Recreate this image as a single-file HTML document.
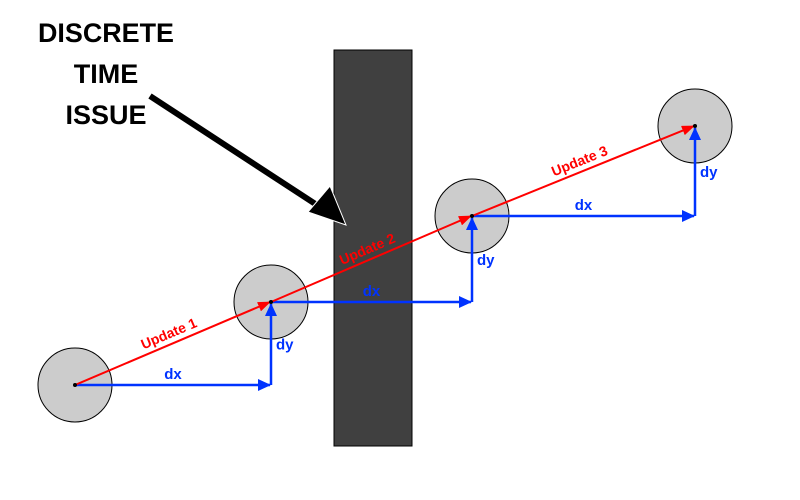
<!DOCTYPE html>
<html><head><meta charset="utf-8"><style>
body{margin:0;background:#fff;}
svg{display:block;font-family:"Liberation Sans",sans-serif;}
</style></head><body>
<svg id="c" width="800" height="500">
<defs>
<marker id="ab" markerWidth="13" markerHeight="12" refX="12" refY="6" orient="auto" markerUnits="userSpaceOnUse"><path d="M0,0 L13,6 L0,12 z" fill="#0033ff"/></marker>
<marker id="ar" markerWidth="13" markerHeight="10" refX="12" refY="5" orient="auto" markerUnits="userSpaceOnUse"><path d="M0,0 L13,5 L0,10 z" fill="#ff0000"/></marker>
</defs>
<rect x="334" y="50" width="78" height="396" fill="#404040" stroke="#000" stroke-width="1"/>
<g font-weight="bold" font-size="27" fill="#000" text-anchor="middle">
<text x="106" y="42" textLength="136" lengthAdjust="spacingAndGlyphs">DISCRETE</text><text x="106" y="83">TIME</text><text x="106" y="124">ISSUE</text>
</g>
<line x1="150" y1="96" x2="320" y2="207" stroke="#000" stroke-width="6"/>
<polygon points="346,225 308,212 330,186" fill="#000" stroke="#fff" stroke-width="1"/>
<g id="g"></g>
</svg>
<script>
const px=[75,271,472,695];
const py=[385,302,216,126];
const labels=["Update 1","Update 2","Update 3"];
const NS="http://www.w3.org/2000/svg",g=document.getElementById('g');
function mk(t,a){const e=document.createElementNS(NS,t);for(const k in a)e.setAttribute(k,a[k]);g.appendChild(e);return e;}
for(let i=0;i<px.length;i++){
  const c=mk('circle',{cx:px[i],cy:py[i],r:37,fill:'#cccccc',stroke:'#000','stroke-width':1});
  
  
}
for(let i=0;i<px.length-1;i++){
  const x0=px[i],y0=py[i],x1=px[i+1],y1=py[i+1];
  const h=mk('line',{x1:x0,y1:y0,x2:x1-1,y2:y0,stroke:'#0033ff','stroke-width':2.5,'marker-end':'url(#ab)'});
  
  
  const v=mk('line',{x1:x1,y1:y0,x2:x1,y2:y1+2,stroke:'#0033ff','stroke-width':2.5,'marker-end':'url(#ab)'});
  
  
  const tx=mk('text',{x:(x0+x1)/2,y:y0-6,'text-anchor':'middle','font-size':15,'font-weight':'bold',fill:'#0033ff'});
  tx.textContent='dx';
  
  
  const ty=mk('text',{x:x1+5,y:(y0+y1)/2+6,'font-size':15,'font-weight':'bold',fill:'#0033ff'});
  ty.textContent='dy';
  
  
  const r=mk('line',{x1:x0,y1:y0,x2:x1-1,y2:y1,stroke:'#ff0000','stroke-width':2,'marker-end':'url(#ar)'});
  
  
  const ang=Math.atan2(y1-y0,x1-x0)*180/Math.PI,mx=(x0+x1)/2,my=(y0+y1)/2;
  const t=mk('text',{x:mx,y:my-6,'text-anchor':'middle','font-size':14,'font-weight':'bold',fill:'#ff0000',transform:`rotate(${ang} ${mx} ${my})`});
  t.textContent=labels[i];
  
  
}
for(let i=0;i<px.length;i++){
  const d=mk('circle',{cx:px[i],cy:py[i],r:2,fill:'#000'});
  
  
}
</script>
</body></html>
